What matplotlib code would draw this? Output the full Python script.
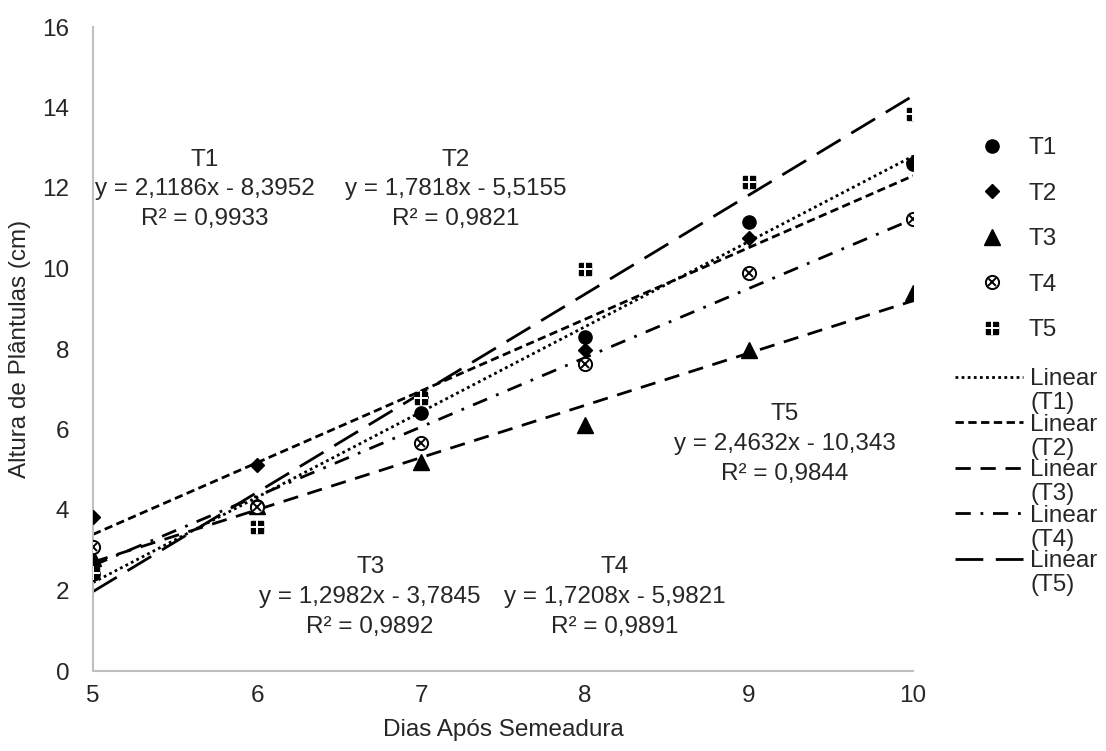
import numpy as np
import matplotlib
matplotlib.use('Agg')
import matplotlib.pyplot as plt
from matplotlib.legend_handler import HandlerTuple

plt.rcParams['font.family'] = ['Liberation Sans', 'DejaVu Sans']

dias = [5, 6, 7, 8, 9, 10]
t1 = [2.4, 4.1, 6.4, 8.3, 11.15, 12.6]
t2 = [3.83, 5.12, 6.8, 7.97, 10.76, 12.65]
t3 = [2.8, 4.1, 5.19, 6.1, 7.97, 9.39]
t4 = [3.08, 4.08, 5.66, 7.63, 9.88, 11.23]
t5 = [2.43, 3.58, 6.78, 10.0, 12.15, 13.84]

nomes = ['T1', 'T2', 'T3', 'T4', 'T5']
inclinacoes = [2.1186, 1.7818, 1.2982, 1.7208, 2.4632]
interceptos = [-8.3952, -5.5155, -3.7845, -5.9821, -10.343]
r2 = ['0,9933', '0,9821', '0,9892', '0,9891', '0,9844']
eq_txt = ['y = 2,1186x - 8,3952', 'y = 1,7818x - 5,5155', 'y = 1,2982x - 3,7845',
          'y = 1,7208x - 5,9821', 'y = 2,4632x - 10,343']
# centre of each equation label (x in days, y in cm)
eq_pos = [(5.68, 11.97), (7.21, 11.97), (6.69, 1.84), (8.18, 1.84), (9.22, 5.64)]

cor = '#262626'
fs = 17.5
fig = plt.figure(figsize=(11.06, 7.51), dpi=100)
ax = fig.add_axes([93 / 1106, 80 / 751, 820 / 1106, 644 / 751])

marcas = []
kw = dict(color='black', linestyle='none', zorder=3)
marcas.append(ax.plot(dias, t1, marker='o', markersize=9.5, **kw)[0])
marcas.append(ax.plot(dias, t2, marker='D', markersize=7.5, **kw)[0])
marcas.append(ax.plot(dias, t3, marker='^', markersize=11, **kw)[0])
m4 = ax.plot(dias, t4, marker='o', markersize=9.5, markerfacecolor='white',
             markeredgecolor='black', markeredgewidth=1.4, linestyle='none', zorder=3)[0]
m4x = ax.plot(dias, t4, marker='x', markersize=6, color='black', markeredgewidth=1.4,
              linestyle='none', zorder=4)[0]
marcas.append((m4, m4x))
m5 = ax.plot(dias, t5, marker='s', markersize=8.5, **kw)[0]
m5p = ax.plot(dias, t5, marker='+', markersize=10, color='white', markeredgewidth=1.4,
              linestyle='none', zorder=4)[0]
marcas.append((m5, m5p))

tracos = [(1, 1.2), (3, 1.6), (5.5, 3.5), (5.5, 3.5, 1, 3.5), (10, 4.5)]
xs = np.array([dias[0], dias[-1]])
linhas = []
for a, b, d in zip(inclinacoes, interceptos, tracos):
    ln, = ax.plot(xs, a * xs + b, color='black', linewidth=2, dashes=d, zorder=2)
    linhas.append(ln)

for nome, eq, r, (px, py) in zip(nomes, eq_txt, r2, eq_pos):
    ax.text(px, py, nome + '\n' + eq + '\nR² = ' + r, ha='center', va='center',
            fontsize=fs, color=cor, linespacing=1.45)

ax.set_xlim(5, 10)
ax.set_ylim(0, 16)
ax.set_xticks(dias)
ax.set_yticks(range(0, 17, 2))
ax.tick_params(length=0, labelsize=fs, labelcolor=cor)
ax.tick_params(axis='y', pad=17)
ax.tick_params(axis='x', pad=10)
for s in ['top', 'right']:
    ax.spines[s].set_visible(False)
for s in ['left', 'bottom']:
    ax.spines[s].set_color('#bfbfbf')
    ax.spines[s].set_linewidth(1.5)
ax.set_xlabel('Dias Após Semeadura', fontsize=fs, color=cor, labelpad=9)
ax.set_ylabel('Altura de Plântulas (cm)', fontsize=fs, color=cor, labelpad=8)

leg1 = fig.legend(marcas, nomes, loc='upper left', bbox_to_anchor=(974 / 1106, 1 - 137 / 751),
                  frameon=False, fontsize=fs, labelspacing=0.97, handlelength=1.5,
                  handletextpad=0.75, borderpad=0, borderaxespad=0, labelcolor=cor,
                  handler_map={tuple: HandlerTuple(ndivide=1, pad=0)})
leg2 = fig.legend(linhas, ['Linear'] * 5, loc='upper left',
                  bbox_to_anchor=(955 / 1106, 1 - 368 / 751), frameon=False, fontsize=fs,
                  labelspacing=0.97, handlelength=2.8, handletextpad=0.3, borderpad=0,
                  borderaxespad=0, labelcolor=cor)

# second line of each trendline label, "(Tn)", just under "Linear"
fig.canvas.draw()
r = fig.canvas.get_renderer()
for t, n in zip(leg2.get_texts(), nomes):
    bb = t.get_window_extent(r)
    fig.text(bb.x0 / fig.bbox.width, (bb.y0 - 24) / fig.bbox.height, '(' + n + ')',
             fontsize=fs, color=cor, ha='left', va='bottom')

fig.savefig('out.png', dpi=100)
